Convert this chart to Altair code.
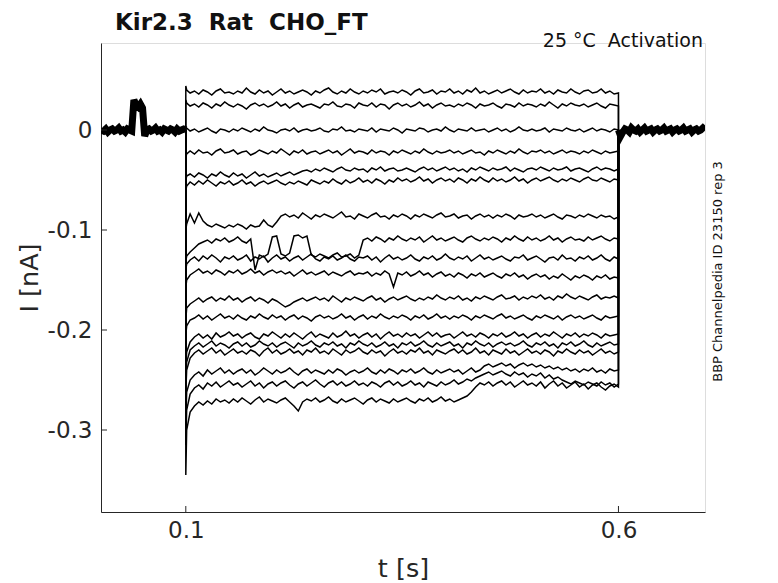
import altair as alt
import pandas as pd

# ---- data (currents in pA) ----
T_ON = 0.1
T_OFF = 0.6
ONSET = [44, 30, 3, -27, -50, -60, -100, -132, -140, -158, -190, -205,
         -235, -250, -262, -290, -315, -345]

TR01 = [40,
        37, 39, 36, 40, 38, 35, 39, 41, 37, 38,
        36, 39, 37, 42, 38, 36, 40, 37, 39, 35,
        38, 41, 37, 39, 36, 38, 40, 38, 35, 39,
        37, 40, 42, 38, 36, 39, 37, 41, 38, 36,
        39, 37, 40, 38, 41, 36, 38, 39, 37, 40,
        38, 35, 39, 41, 37, 38, 40, 36, 39, 38,
        41, 37, 39, 36, 40, 38, 42, 37, 39, 36,
        38, 40, 37, 39, 41, 38, 36, 40, 37, 39,
        38, 41, 37, 39, 36, 40, 38, 37, 41, 38,
        36, 39, 40, 37, 38, 41, 37, 39, 36, 37]
TR02 = [27,
        24, 26, 23, 27, 25, 22, 26, 24, 28, 25,
        23, 26, 24, 21, 25, 27, 24, 26, 23, 25,
        28, 24, 26, 22, 25, 27, 23, 25, 26, 24,
        22, 26, 25, 28, 24, 23, 26, 25, 22, 27,
        25, 24, 27, 23, 26, 25, 21, 25, 27, 24,
        26, 23, 25, 28, 24, 26, 22, 25, 27, 24,
        25, 23, 26, 24, 27, 25, 22, 26, 24, 25,
        27, 24, 22, 26, 25, 23, 27, 24, 26, 25,
        23, 26, 24, 28, 25, 22, 26, 24, 27, 25,
        24, 26, 23, 25, 27, 24, 22, 26, 25, 24]
TR03 = [2,
        -1, 1, -2, 0, 2, -1, -3, 1, 0, -2,
        1, -1, 2, 0, -2, 1, -1, 3, 0, -1,
        -3, 0, 1, -1, 2, -2, 0, 1, -1, 0,
        2, -1, -2, 1, 0, 3, -1, 0, -2, 1,
        0, -1, 2, -2, 1, 0, -1, 2, 0, -3,
        1, 0, -1, 2, 1, -2, 0, 1, -1, 3,
        0, -2, 1, 0, -1, 2, -1, 0, 1, -2,
        0, 2, -1, 1, -2, 0, 3, 0, -1, 1,
        -1, 0, 2, -2, 1, 0, -1, 2, 0, -1,
        1, -2, 0, 2, -1, 1, 0, -2, 1, 0]
TR04 = [-24,
        -21, -24, -20, -23, -22, -25, -21, -19, -23, -22,
        -20, -24, -22, -21, -25, -23, -20, -22, -24, -21,
        -23, -19, -22, -25, -21, -23, -20, -24, -22, -21,
        -24, -22, -20, -23, -21, -25, -22, -19, -23, -21,
        -22, -24, -20, -23, -21, -22, -25, -21, -23, -20,
        -22, -24, -21, -23, -19, -22, -24, -21, -23, -22,
        -20, -23, -21, -24, -22, -20, -23, -22, -25, -21,
        -23, -20, -22, -24, -21, -23, -19, -22, -24, -21,
        -22, -20, -23, -21, -24, -22, -20, -23, -21, -22,
        -24, -21, -23, -20, -22, -24, -21, -23, -22, -21]
TR05 = [-46,
        -44, -47, -43, -45, -48, -44, -46, -42, -45, -47,
        -43, -46, -44, -48, -45, -42, -46, -44, -47, -45,
        -43, -46, -44, -42, -45, -43, -41, -40, -42, -39,
        -41, -38, -40, -42, -39, -37, -40, -41, -38, -40,
        -39, -42, -38, -40, -37, -41, -39, -38, -41, -40,
        -38, -40, -42, -39, -37, -40, -38, -41, -39, -37,
        -40, -38, -41, -39, -42, -38, -40, -37, -39, -41,
        -38, -40, -39, -37, -41, -38, -40, -42, -39, -38,
        -40, -37, -39, -41, -38, -40, -39, -37, -41, -39,
        -38, -40, -42, -39, -37, -40, -38, -39, -41, -39]
TR06 = [-56,
        -52, -55, -51, -54, -50, -53, -56, -52, -54, -51,
        -55, -53, -50, -54, -52, -56, -53, -51, -54, -52,
        -50, -53, -55, -52, -54, -51, -53, -55, -50, -52,
        -54, -51, -53, -49, -52, -54, -50, -53, -51, -48,
        -52, -50, -53, -49, -51, -54, -50, -52, -48, -51,
        -49, -52, -50, -47, -51, -49, -53, -50, -48, -51,
        -49, -52, -48, -50, -53, -49, -51, -47, -50, -52,
        -48, -51, -49, -52, -50, -47, -51, -49, -53, -50,
        -48, -51, -49, -47, -50, -52, -49, -51, -48, -50,
        -52, -49, -47, -50, -51, -48, -50, -52, -49, -50]
TR07 = [-94,
        -84, -93, -83, -91, -95, -97, -94, -96, -98, -95,
        -97, -94, -96, -99, -95, -97, -96, -90, -95, -97,
        -92, -86, -84, -87, -85, -88, -83, -86, -89, -85,
        -87, -84, -86, -88, -85, -82, -87, -86, -89, -84,
        -86, -88, -85, -83, -87, -86, -89, -85, -87, -84,
        -86, -89, -85, -87, -84, -86, -88, -85, -83, -87,
        -86, -84, -88, -86, -85, -89, -86, -84, -87, -85,
        -88, -85, -87, -84, -86, -89, -85, -87, -86, -84,
        -87, -85, -88, -86, -84, -87, -89, -85, -86, -88,
        -85, -87, -84, -86, -88, -85, -87, -86, -89, -87]
TR08 = [-126,
        -122, -118, -114, -112, -110, -113, -109, -111, -108, -112,
        -110, -107, -111, -113, -109, -140, -125, -127, -124, -107,
        -106, -124, -126, -123, -106, -105, -108, -106, -125, -127,
        -124, -126, -128, -125, -123, -127, -126, -124, -128, -125,
        -110, -108, -111, -107, -109, -112, -108, -110, -106, -109,
        -111, -108, -110, -107, -112, -109, -106, -110, -108, -111,
        -109, -107, -110, -112, -108, -106, -109, -111, -108, -110,
        -107, -109, -112, -108, -110, -106, -109, -111, -107, -110,
        -108, -111, -109, -106, -110, -108, -112, -109, -107, -110,
        -109, -111, -107, -110, -108, -106, -109, -111, -108, -109]
TR09 = [-134,
        -130, -127, -131, -126, -129, -125, -128, -132, -127, -129,
        -126, -130, -128, -125, -131, -127, -129, -126, -132, -128,
        -125, -129, -127, -131, -128, -126, -130, -127, -124, -129,
        -131, -127, -129, -126, -130, -128, -125, -129, -131, -127,
        -128, -126, -130, -127, -132, -128, -125, -129, -127, -130,
        -128, -125, -129, -131, -127, -129, -126, -130, -128, -124,
        -128, -130, -127, -129, -126, -131, -128, -125, -129, -127,
        -130, -128, -126, -129, -131, -127, -128, -125, -130, -128,
        -126, -129, -132, -128, -127, -130, -125, -129, -128, -131,
        -127, -129, -126, -130, -128, -125, -129, -131, -127, -129]
TR10 = [-150,
        -145, -142, -139, -143, -141, -144, -140, -142, -145, -141,
        -143, -140, -144, -142, -139, -143, -141, -145, -142, -140,
        -143, -141, -144, -142, -146, -143, -140, -144, -142, -145,
        -143, -141, -145, -142, -144, -146, -143, -141, -145, -143,
        -144, -142, -146, -143, -145, -141, -144, -157, -143, -145,
        -142, -146, -144, -141, -145, -143, -147, -144, -142, -146,
        -144, -147, -143, -145, -148, -144, -146, -143, -147, -145,
        -143, -146, -148, -144, -146, -143, -147, -145, -149, -146,
        -144, -147, -145, -149, -146, -148, -144, -147, -150, -146,
        -148, -145, -147, -150, -146, -148, -145, -149, -147, -148]
TR11 = [-178,
        -174, -171, -168, -172, -169, -167, -171, -168, -170, -166,
        -170, -168, -172, -169, -167, -171, -168, -170, -173, -169,
        -171, -174, -177, -175, -172, -170, -168, -171, -169, -167,
        -170, -168, -171, -166, -169, -172, -168, -170, -167, -169,
        -171, -168, -166, -170, -168, -172, -169, -167, -170, -168,
        -166, -169, -171, -168, -170, -167, -169, -165, -168, -170,
        -167, -169, -166, -170, -168, -171, -167, -169, -166, -168,
        -170, -167, -165, -169, -168, -166, -170, -167, -169, -166,
        -168, -165, -169, -167, -170, -166, -168, -164, -167, -169,
        -166, -168, -170, -167, -165, -169, -167, -168, -166, -168]
TR12 = [-196,
        -190, -188, -185, -189, -186, -190, -187, -184, -188, -186,
        -189, -185, -188, -190, -186, -188, -184, -187, -189, -185,
        -188, -186, -190, -187, -185, -189, -186, -188, -191, -187,
        -185, -188, -186, -189, -187, -184, -188, -186, -190, -187,
        -185, -189, -186, -188, -184, -187, -189, -186, -188, -185,
        -187, -190, -186, -188, -185, -189, -187, -184, -188, -186,
        -189, -186, -188, -185, -187, -190, -186, -188, -185, -187,
        -189, -186, -184, -188, -186, -189, -187, -185, -188, -190,
        -186, -188, -185, -187, -189, -186, -190, -187, -185, -188,
        -186, -189, -187, -185, -188, -190, -186, -188, -187, -186]
TR13 = [-222,
        -212, -207, -204, -208, -205, -209, -203, -207, -205, -202,
        -206, -204, -208, -205, -203, -207, -209, -204, -206, -202,
        -205, -208, -204, -207, -203, -206, -209, -205, -202, -207,
        -204, -206, -208, -203, -207, -205, -201, -206, -204, -208,
        -205, -203, -207, -204, -209, -205, -202, -206, -204, -207,
        -203, -206, -204, -208, -205, -202, -206, -203, -207, -205,
        -204, -208, -205, -202, -206, -204, -207, -203, -205, -208,
        -204, -206, -203, -207, -205, -202, -206, -204, -208, -205,
        -203, -207, -204, -206, -202, -205, -208, -204, -206, -203,
        -207, -204, -206, -203, -205, -208, -204, -206, -205, -204]
TR14 = [-232,
        -220, -216, -213, -217, -214, -211, -216, -213, -215, -218,
        -214, -212, -216, -213, -217, -215, -211, -214, -216, -213,
        -217, -214, -212, -215, -218, -213, -216, -214, -211, -215,
        -217, -213, -215, -212, -216, -214, -218, -213, -215, -211,
        -214, -216, -213, -217, -215, -212, -216, -214, -218, -213,
        -215, -212, -216, -214, -211, -215, -217, -213, -216, -214,
        -212, -216, -214, -218, -213, -215, -211, -214, -216, -213,
        -217, -214, -212, -215, -213, -216, -214, -211, -215, -217,
        -213, -215, -212, -216, -214, -218, -213, -215, -212, -216,
        -214, -211, -215, -217, -213, -216, -214, -212, -215, -214]
TR15 = [-240,
        -228, -223, -220, -224, -221, -218, -223, -220, -225, -222,
        -219, -223, -221, -224, -220, -222, -226, -221, -218, -223,
        -220, -224, -222, -219, -223, -221, -225, -220, -222, -218,
        -223, -221, -224, -219, -222, -225, -220, -223, -221, -218,
        -222, -224, -220, -223, -221, -226, -222, -219, -223, -221,
        -224, -220, -222, -218, -223, -221, -225, -220, -222, -224,
        -221, -219, -223, -220, -224, -222, -218, -223, -221, -225,
        -220, -222, -224, -219, -223, -221, -225, -222, -219, -223,
        -221, -224, -220, -222, -226, -221, -223, -219, -222, -224,
        -220, -223, -221, -225, -222, -219, -223, -221, -224, -222]
TR16 = [-262,
        -250, -245, -242, -246, -240, -244, -241, -238, -243, -240,
        -244, -241, -239, -243, -240, -245, -242, -238, -241, -244,
        -240, -243, -241, -238, -242, -245, -241, -239, -243, -240,
        -242, -244, -240, -243, -239, -241, -245, -242, -240, -243,
        -241, -238, -242, -244, -240, -243, -239, -241, -244, -240,
        -242, -239, -243, -241, -238, -242, -244, -240, -243, -241,
        -239, -242, -240, -244, -241, -238, -242, -240, -236, -234,
        -237, -235, -233, -236, -234, -238, -235, -233, -236, -234,
        -237, -235, -238, -236, -239, -237, -240, -238, -241, -239,
        -242, -239, -241, -238, -242, -240, -243, -239, -241, -240]
TR17 = [-280,
        -264, -258, -255, -259, -253, -256, -252, -257, -254, -251,
        -255, -253, -257, -254, -251, -256, -253, -258, -254, -252,
        -256, -253, -251, -255, -258, -254, -252, -256, -253, -250,
        -254, -257, -253, -251, -255, -252, -256, -254, -251, -255,
        -253, -256, -252, -254, -257, -253, -251, -255, -252, -256,
        -254, -251, -255, -253, -257, -252, -254, -256, -252, -255,
        -253, -250, -254, -252, -249, -251, -248, -246, -244, -242,
        -245, -243, -241, -244, -246, -242, -245, -243, -247, -244,
        -246, -243, -248, -245, -249, -247, -250, -252, -254, -251,
        -253, -255, -252, -254, -256, -252, -255, -253, -257, -254]
TR18 = [-300,
        -282, -276, -272, -275, -271, -274, -269, -272, -270, -273,
        -269, -272, -268, -271, -274, -270, -267, -272, -269, -271,
        -273, -270, -268, -272, -276, -281, -272, -269, -271, -268,
        -272, -270, -267, -271, -273, -269, -272, -270, -268, -271,
        -274, -270, -268, -272, -269, -271, -273, -269, -272, -270,
        -268, -271, -273, -269, -271, -268, -272, -270, -267, -271,
        -269, -272, -270, -268, -266, -262, -257, -253, -255, -252,
        -256, -253, -251, -255, -252, -257, -254, -251, -255, -253,
        -256, -252, -258, -254, -251, -256, -253, -258, -255, -252,
        -257, -254, -259, -255, -253, -257, -260, -256, -254, -257]

TRACES = [TR01, TR02, TR03, TR04, TR05, TR06, TR07, TR08, TR09,
          TR10, TR11, TR12, TR13, TR14, TR15, TR16, TR17, TR18]

# holding current before / after the step (with the short test pulse)
BASE_PRE = [0, -1, 1, -2, 0, 1, -1, 0, 2, -1,
            0, -2, 1, 0, -1, 30, 25, 23, 26, 22,
            -6, 0, 1, -1, 0, 2, -1, 0, -2, 1,
            0, -1, 1, 0, -2, 1, -1, 0, 1, 0]
BASE_POST = [0, -6, -2, 1, 0, -2, 2, 0, -1, 1,
             -2, 0, 2, -1, 0, 1, -2, 0, 1, -1,
             0, 2, -1, 0, 1, -2, 0, 1, -1, 0,
             2, -1, 0, 1, -2, 0, 1, -1, 0, 2, 0]

X_TICKS = [0.1, 0.6]
Y_TICKS = [-0.3, -0.2, -0.1, 0.0]

# ---- build tables ----
rows = []
for n, (vals, on) in enumerate(zip(TRACES, ONSET)):
    pts = [(T_ON, 0), (T_ON, on), (0.101, vals[0])]
    for k in range(1, len(vals)):
        pts.append((round(0.100 + 0.005 * k, 4), vals[k]))
    pts.append((T_OFF, 0))
    for o, (t, v) in enumerate(pts):
        rows.append({"trace": n, "o": o, "t": t, "I": v / 1000.0})
traces = pd.DataFrame(rows)

brows = []
for k, v in enumerate(BASE_PRE):
    brows.append({"seg": "pre", "o": k, "t": 0.0025 * (k + 1), "I": v / 1000.0})
for k, v in enumerate(BASE_POST):
    brows.append({"seg": "post", "o": k, "t": T_OFF + 0.0025 * k, "I": v / 1000.0})
base = pd.DataFrame(brows)

W, H = 604, 469
FONT = "DejaVu Sans"
AX = "#262626"

xs = alt.Scale(domain=[0.002, 0.7], nice=False, zero=False)
ys = alt.Scale(domain=[-0.382, 0.087], nice=False, zero=False)

x_axis = alt.Axis(values=X_TICKS, format=".1f", grid=False, tickSize=0,
                  labelPadding=7, labelFontSize=23, labelFont=FONT, labelColor=AX,
                  domainColor=AX, domainWidth=1, title="t [s]", titleFont=FONT,
                  titleFontSize=25.5, titleFontWeight="normal", titleColor=AX,
                  titleY=64, titleBaseline="alphabetic")
y_axis = alt.Axis(values=Y_TICKS, grid=False, tickSize=0, labelPadding=9,
                  labelExpr="datum.value == 0 ? '0' : '-' + format(-datum.value, '.1f')",
                  labelFontSize=23, labelFont=FONT, labelColor=AX,
                  domainColor=AX, domainWidth=1, title="I [nA]", titleFont=FONT,
                  titleFontSize=25.5, titleFontWeight="normal", titleColor=AX,
                  titleX=-64, titleBaseline="alphabetic")

baseline = alt.Chart(base).mark_line(color="black", strokeWidth=7, clip=True).encode(
    x=alt.X("t:Q", scale=xs, axis=x_axis),
    y=alt.Y("I:Q", scale=ys, axis=y_axis),
    detail="seg:N", order="o:Q")

lines = alt.Chart(traces).mark_line(color="black", strokeWidth=1.5, clip=True).encode(
    x=alt.X("t:Q", scale=xs), y=alt.Y("I:Q", scale=ys),
    detail="trace:N", order="o:Q")

yt = alt.Chart(pd.DataFrame({"v": Y_TICKS})).mark_rule(color=AX, strokeWidth=1).encode(
    y=alt.Y("v:Q", scale=ys), x=alt.value(0), x2=alt.value(6))
xt = alt.Chart(pd.DataFrame({"v": X_TICKS})).mark_rule(color=AX, strokeWidth=1).encode(
    x=alt.X("v:Q", scale=xs), y=alt.value(H), y2=alt.value(H - 6))

title = alt.Chart(pd.DataFrame({"s": ["Kir2.3\u00a0\u00a0Rat\u00a0\u00a0CHO_FT"]})).mark_text(
    font=FONT, fontSize=23, fontWeight="bold", color="#111111",
    align="left", baseline="alphabetic").encode(
    text="s:N", x=alt.value(14), y=alt.value(-13.5))
cond = alt.Chart(pd.DataFrame({"s": ["25 \u00b0C\u00a0\u00a0Activation"]})).mark_text(
    font=FONT, fontSize=19, color="#111111", align="right", baseline="alphabetic").encode(
    text="s:N", x=alt.value(602), y=alt.value(4))
side = alt.Chart(pd.DataFrame({"s": ["BBP Channelpedia ID 23150 rep 3"]})).mark_text(
    font=FONT, fontSize=13, color="#111111", angle=270, align="center",
    baseline="middle").encode(text="s:N", x=alt.value(617), y=alt.value(228.5))

chart = alt.layer(baseline, lines, yt, xt, title, cond, side).properties(
    width=W, height=H,
    autosize=alt.AutoSizeParams(type="none"),
    padding={"left": 93, "top": 35, "right": 60, "bottom": 70},
).configure_view(stroke=None).configure(background="white")

chart.save("out.html", embed_options={"renderer": "svg", "actions": False})
